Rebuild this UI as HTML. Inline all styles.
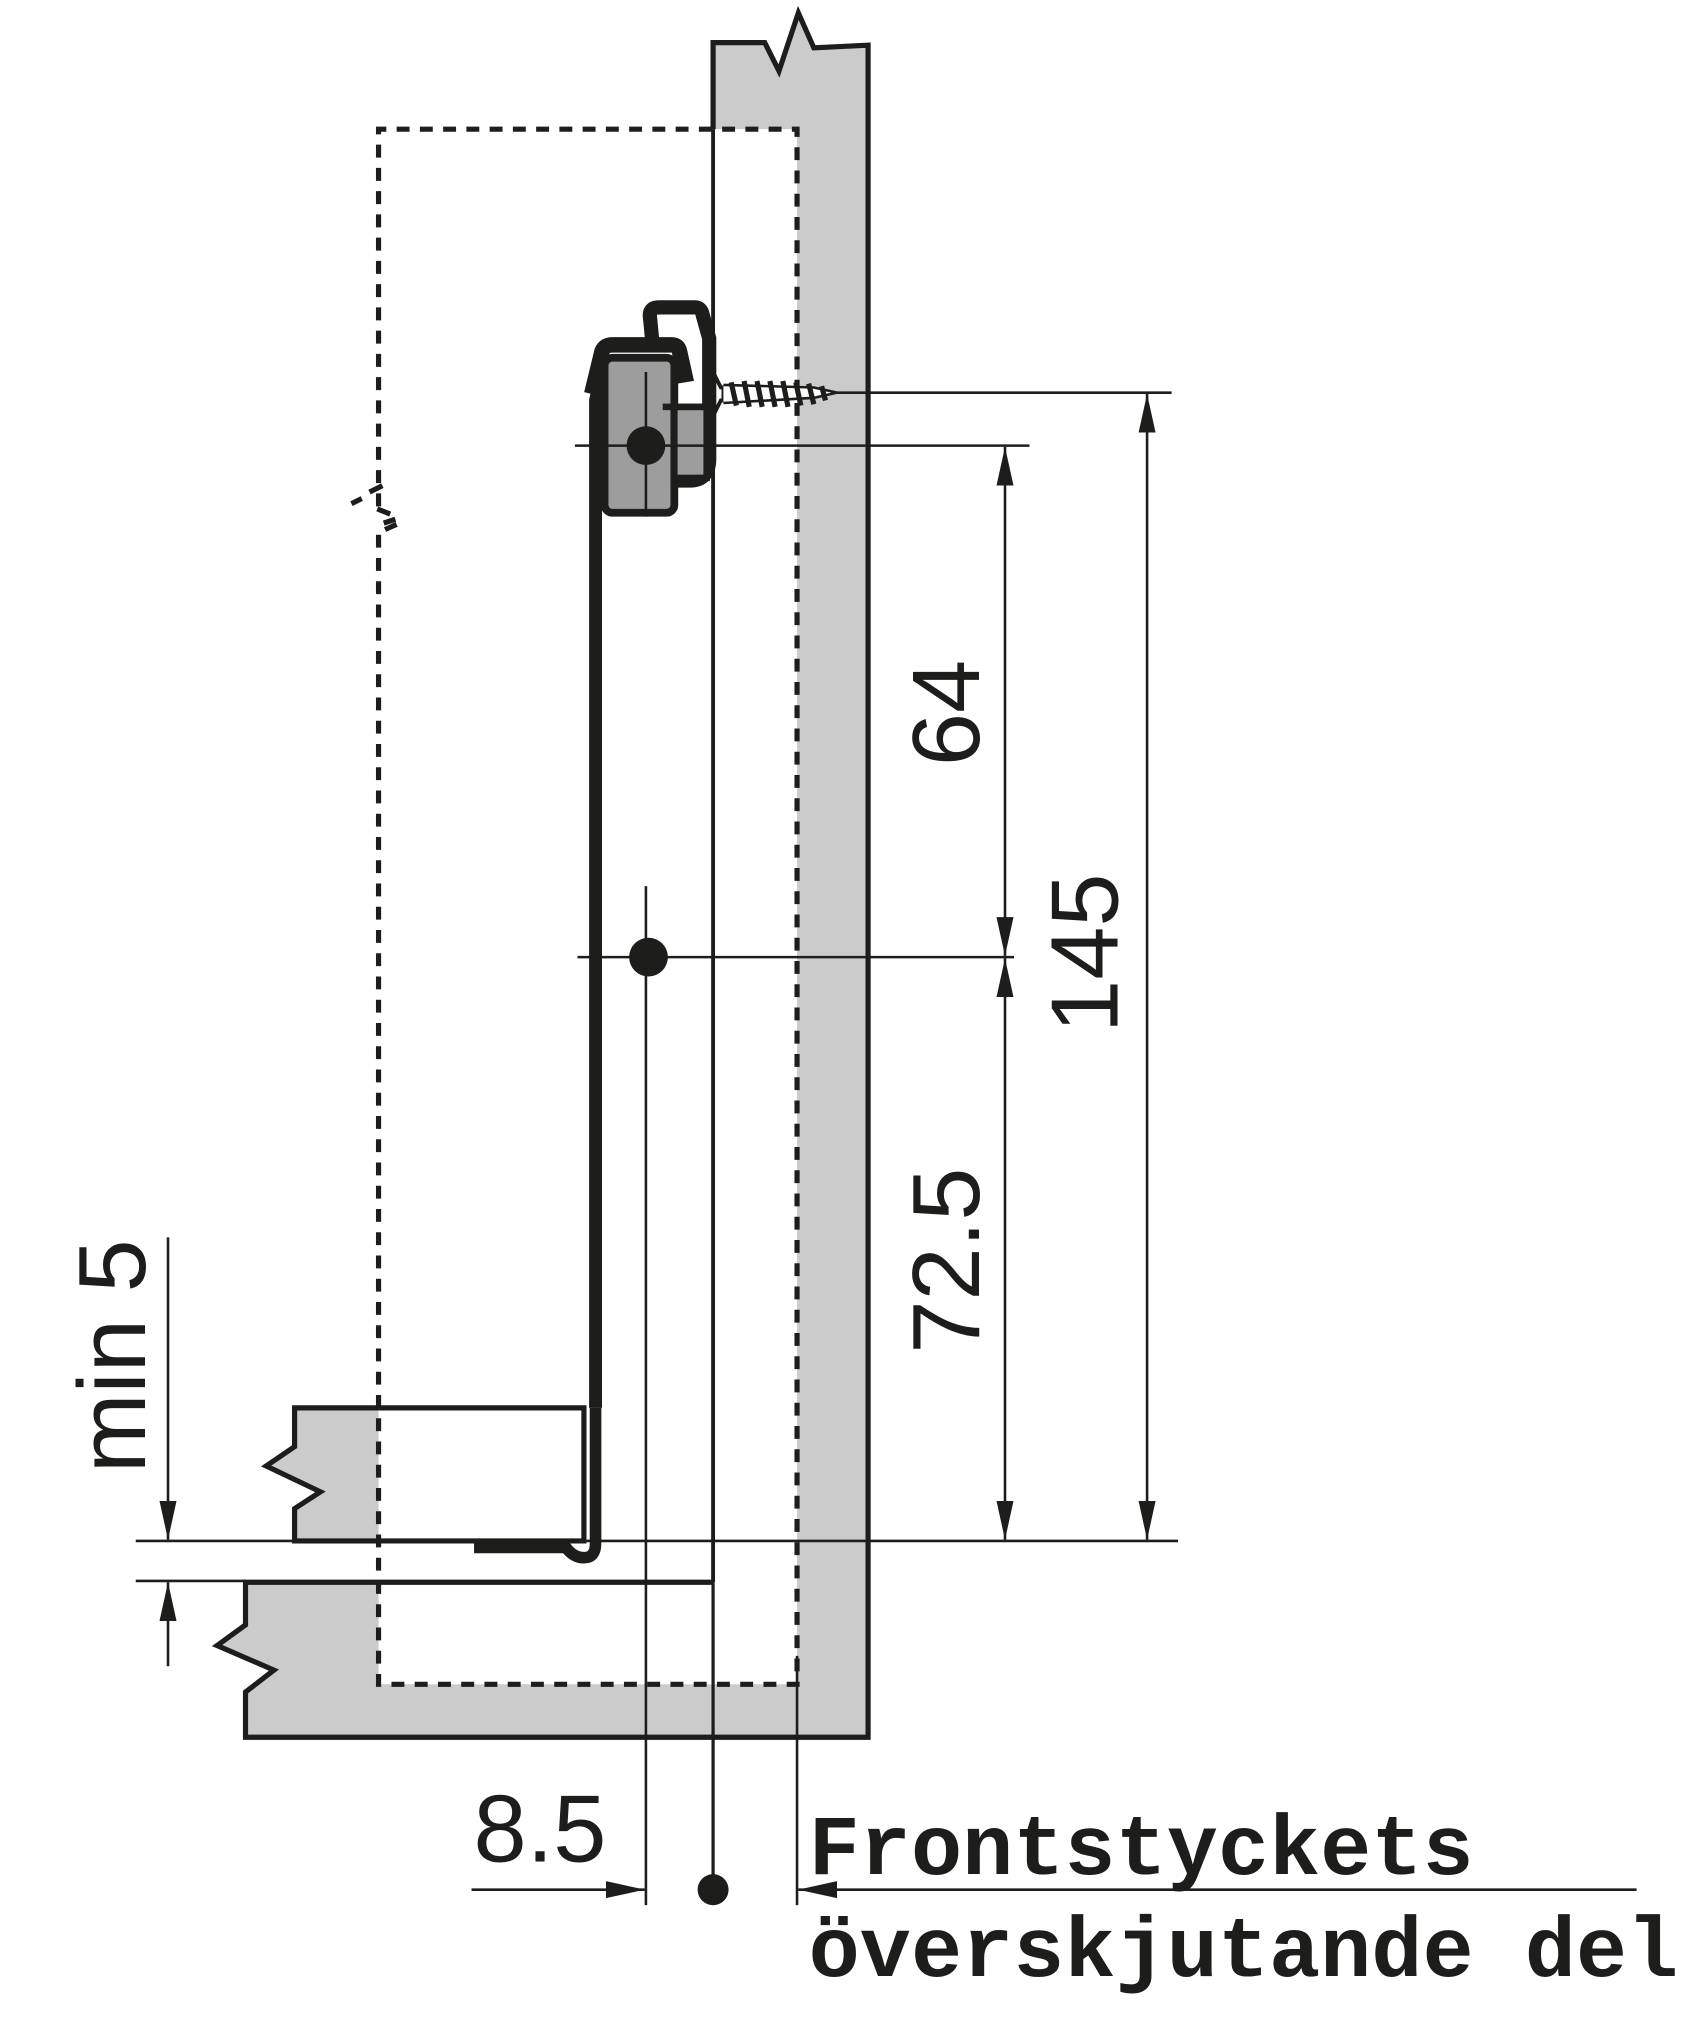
<!DOCTYPE html>
<html><head><meta charset="utf-8"><style>
html,body{margin:0;padding:0;background:#fff;}
svg{display:block;}
</style></head><body>
<svg width="1700" height="2024" viewBox="0 0 1316 1567" xmlns="http://www.w3.org/2000/svg">
<defs>
<marker id="a" viewBox="0 0 10 10" refX="10" refY="5" markerWidth="30" markerHeight="30" markerUnits="userSpaceOnUse" orient="auto-start-reverse" preserveAspectRatio="none">
<path d="M0,2.8 L10,5 L0,7.2 z" fill="#1d1d1b"/></marker>
</defs>
<g stroke="#1d1d1b" fill="none">
<path d="M552,33 L592,33 L603,55 L618,10 L630,37 L672,35 L672,1345 L190,1345 L190,1310 L212,1293 L168,1274 L190,1258 L190,1225 L552,1225 Z" fill="#cbcbcb" stroke-width="4"/>
<path d="M228,1090 L452,1090 L452,1193 L228,1193 L228,1168 L248,1155 L206,1135 L228,1120 Z" fill="#cbcbcb" stroke-width="4"/>
<rect x="293" y="100" width="324" height="1204" fill="#fff" stroke="none"/>
<path d="M293,1090 L452,1090 L452,1193 L293,1193" stroke-width="4"/>
<path d="M293,1225 L552,1225" stroke-width="4"/>
<line x1="552" y1="100" x2="552" y2="1225" stroke-width="3"/>
<path d="M293,392 L293,100 L617,100 L617,1304 L293,1304 L293,410" stroke-width="4" stroke-dasharray="10,8"/>
<path d="M286,381 L296,376 M272,390 L280,386 M292,394 L302,398 M297,405 L306,402 M298,410 L307,406" stroke-width="4"/>
<path d="M461,1090 L461,310 L467,283" stroke-width="10"/>
<path d="M461,1090 L461,1195 Q461,1206 452,1206 Q444,1206 438,1198 L367,1198" stroke-width="9"/>
<rect x="367" y="1193" width="70" height="9" fill="#1d1d1b" stroke="none"/>
<path d="M458,305 L466,272 Q468,267 474,267 L520,267 Q525,267 526,272 L530,290 L524,291" stroke-width="12" fill="none"/>
<path d="M505,265 L503,244 Q503,238 510,238 L538,238 Q543,238 544,244 L549,262 L549,355 Q549,372 534,372 L524,372" stroke-width="11"/>
<rect x="468" y="277" width="54" height="120" rx="6" fill="#9d9d9d" stroke-width="6"/>
<rect x="522" y="315" width="25" height="55" fill="#9d9d9d" stroke-width="5"/>
<line x1="513" y1="315" x2="550" y2="315" stroke-width="5"/>
<line x1="500" y1="288" x2="500" y2="400" stroke-width="2"/>
<circle cx="500" cy="345" r="15" fill="#1d1d1b" stroke="none"/>
<path d="M553,290 L558,300 L560,300 L560,310 L558,310 L553,320 Z" fill="#fff" stroke-width="3"/>
<path d="M560,298 L630,300 L648,304 L630,308 L560,312" fill="#fff" stroke-width="2"/>
<path d="M566,296 L570,314 M576,295 L580,315 M586,295 L590,315 M596,295 L600,315 M606,295 L610,315 M616,296 L620,314 M626,297 L630,313 M636,299 L639,310" stroke-width="4"/>
<line x1="648" y1="304" x2="907" y2="304" stroke-width="2"/>
<line x1="445" y1="345" x2="797" y2="345" stroke-width="2"/>
<line x1="447" y1="741" x2="785" y2="741" stroke-width="2"/>
<circle cx="502" cy="741" r="15" fill="#1d1d1b" stroke="none"/>
<line x1="500" y1="686" x2="500" y2="1475" stroke-width="2"/>
<line x1="552" y1="1225" x2="552" y2="1475" stroke-width="2.5"/>
<line x1="617" y1="1282" x2="617" y2="1475" stroke-width="2"/>
<line x1="105" y1="1193" x2="912" y2="1193" stroke-width="2"/>
<line x1="105" y1="1224" x2="190" y2="1224" stroke-width="2"/>
<line x1="778" y1="346" x2="778" y2="740" stroke-width="2" marker-start="url(#a)" marker-end="url(#a)"/>
<line x1="778" y1="742" x2="778" y2="1192" stroke-width="2" marker-start="url(#a)" marker-end="url(#a)"/>
<line x1="888" y1="305" x2="888" y2="1192" stroke-width="2" marker-start="url(#a)" marker-end="url(#a)"/>
<line x1="130" y1="958" x2="130" y2="1192" stroke-width="2" marker-end="url(#a)"/>
<line x1="130" y1="1290" x2="130" y2="1225" stroke-width="2" marker-end="url(#a)"/>
<line x1="365" y1="1463" x2="499" y2="1463" stroke-width="2" marker-end="url(#a)"/>
<line x1="1267" y1="1463" x2="618" y2="1463" stroke-width="2" marker-end="url(#a)"/>
<circle cx="552" cy="1463" r="12" fill="#1d1d1b" stroke="none"/>
</g>
<g fill="#1d1d1b" font-family="Liberation Sans, Arial, sans-serif" font-size="74">
<text transform="translate(758,552) rotate(-90)" text-anchor="middle">64</text>
<text transform="translate(865,738) rotate(-90)" text-anchor="middle">145</text>
<text transform="translate(758,976) rotate(-90)" text-anchor="middle">72.5</text>
<text transform="translate(112,1050) rotate(-90)" text-anchor="middle">min 5</text>
<text x="418" y="1441" text-anchor="middle">8.5</text>
</g>
<g fill="#1d1d1b" font-family="Liberation Mono, Courier New, monospace" font-weight="bold" font-size="66">
<text x="626" y="1451">Frontstyckets</text>
<text x="626" y="1530">överskjutande del</text>
</g>
</svg>
</body></html>
